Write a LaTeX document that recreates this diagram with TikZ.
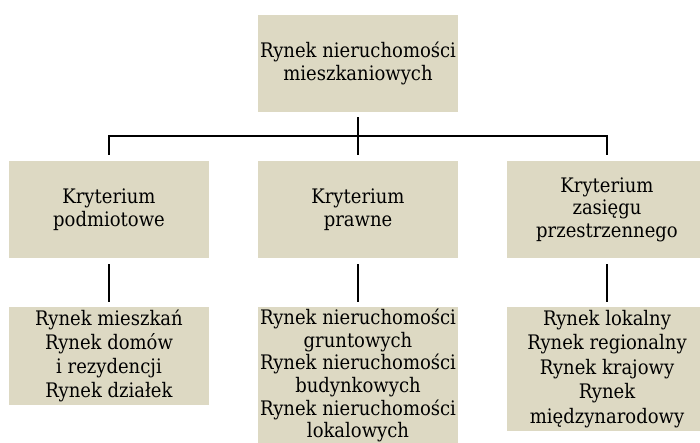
\documentclass[tikz,border=0pt]{standalone}
\usepackage{fontspec}
\setmainfont{DejaVu Serif Condensed}
\definecolor{boxfill}{RGB}{221,217,195}

\begin{document}
\begin{tikzpicture}
			[x=1pt,y=-1pt,
			box/.style={fill=boxfill,minimum width=200pt,minimum height=97pt,inner sep=0pt,align=center,font=\fontsize{20}{22.5}\selectfont},
			leafbox/.style={fill=boxfill,minimum width=200pt,inner xsep=0pt,inner ysep=3pt,anchor=north,align=center,font=\fontsize{20}{24}\selectfont},
			conn/.style={line width=1.8pt}]
			\clip (0,0) rectangle (700,442);
			\node[box] (root) at (358,63.5) {Rynek nieruchomości\\mieszkaniowych};
			\node[box] (crit1) at (109,209.5) {Kryterium\\podmiotowe};
			\node[box] (crit2) at (358,209.5) {Kryterium\\prawne};
			\node[box] (crit3) at (607,209.5) {Kryterium\\zasięgu\\przestrzennego};
			\node[leafbox] (leaf1) at (109,307) {Rynek mieszkań\\Rynek domów\\i rezydencji\\Rynek działek};
			\node[leafbox,font=\fontsize{20}{22.6}\selectfont,inner ysep=2pt] (leaf2) at (358,307) {Rynek nieruchomości\\gruntowych\\Rynek nieruchomości\\budynkowych\\Rynek nieruchomości\\lokalowych};
			\node[leafbox,font=\fontsize{20}{24.5}\selectfont] (leaf3) at (607,307) {Rynek lokalny\\Rynek regionalny\\Rynek krajowy\\Rynek\\międzynarodowy};
			% connectors
			\coordinate (bus) at (358,136);
			\draw[conn,shorten <=5pt] (root) -- (bus);
			\draw[conn,shorten <=6pt,shorten >=6pt] (crit1) |- (bus) -| (crit3);
			\draw[conn,shorten >=6pt] (bus) -- (crit2);
			\draw[conn,shorten <=6pt,shorten >=5pt] (crit1) -- (leaf1);
			\draw[conn,shorten <=6pt,shorten >=5pt] (crit2) -- (leaf2);
			\draw[conn,shorten <=6pt,shorten >=5pt] (crit3) -- (leaf3);
		\end{tikzpicture}
\end{document}
